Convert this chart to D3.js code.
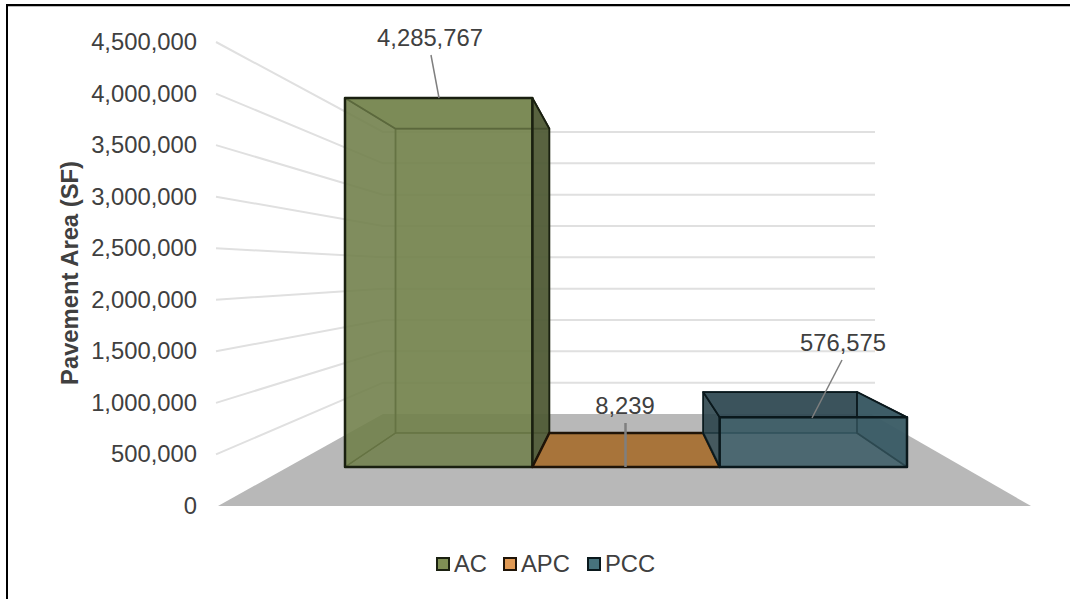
<!DOCTYPE html>
<html><head><meta charset="utf-8">
<script src="https://cdn.jsdelivr.net/npm/d3@7"></script>
<style>html,body{margin:0;padding:0;background:#fff}svg{display:block}text{font-family:"Liberation Sans",Arial,sans-serif}</style>
</head><body><svg id="c" width="1070" height="599"></svg>
<script>
const categories=["AC","APC","PCC"];
const values=[4285767,8239,576575];
const valueLabels=["4,285,767","8,239","576,575"];
const ticks=[0,500000,1000000,1500000,2000000,2500000,3000000,3500000,4000000,4500000];
const fills=["#75844e","#c98a45","#3a5b65"];
const strokes=["#1a2010","#1f1408","#0a181c"];
const svg=d3.select("#c");
const W=1070,H=599,maxV=4500000;

// perspective planes: outer axis, bar front, bar back, rear wall
const yAxis=d3.scaleLinear().domain([0,maxV]).range([506,42]);
const yWall=d3.scaleLinear().domain([0,maxV]).range([414,132]);
const yFront=d3.scaleLinear().domain([0,maxV]).range([467,79.5]);
const yBack=d3.scaleLinear().domain([0,maxV]).range([433,113.5]);
const xFront=d3.scaleBand().domain(categories).range([345,907]);
const xBack=d3.scaleBand().domain(categories).range([395.5,857]);
const wallX=[383,875], axisX=216;
const line=d3.line();

// frame: top and left edges only
svg.append("path").attr("d",line([[7,H],[7,5],[W,5]])).attr("fill","none").attr("stroke","#000").attr("stroke-width",2);
svg.append("path").attr("d",line([[8,6.5],[W,6.5]])).attr("stroke","#bbb").attr("stroke-width",1);

// floor
svg.append("path").attr("d",line([[218,yAxis(0)],[wallX[0],yWall(0)],[wallX[1]-4,yWall(0)],[1031,yAxis(0)]])+"Z").attr("fill","#b8b8b8");
// walls
const grid=svg.append("g").attr("fill","none").attr("stroke","#e0e0e0").attr("stroke-width",2);
ticks.forEach(t=>{
  if(t>0){
    grid.append("path").attr("d",line([[axisX,yAxis(t)],[wallX[0],yWall(t)],[wallX[1],yWall(t)]]));
  }
});
// axis labels
svg.append("g").selectAll("text").data(ticks).join("text")
  .attr("x",197).attr("y",d=>yAxis(d)+8).attr("text-anchor","end")
  .attr("font-size",23.8).attr("fill","#404040").text(d3.format(","));
svg.append("text").attr("transform","translate(78,273) rotate(-90)").attr("text-anchor","middle")
  .attr("font-size",23.8).attr("font-weight","bold").attr("fill","#404040").text("Pavement Area (SF)");

// boxes
categories.forEach((c,i)=>{
  const v=values[i],f=fills[i],s=strokes[i];
  const x0=xFront(c),x1=x0+xFront.bandwidth(),b0=xBack(c),b1=b0+xBack.bandwidth();
  const ft=yFront(v),fb=yFront(0),bt=yBack(v),bb=yBack(0);
  const g=svg.append("g");
  const face=(pts,op,fill,w,col)=>g.append("path").attr("d",line(pts)+"Z").attr("fill",fill||f).attr("fill-opacity",op).attr("stroke",col||s).attr("stroke-width",w).attr("stroke-linejoin","round");
  if(c==="APC"){
    face([[x0,fb],[b0,bb],[b1,bb],[x1,fb]],1,"#a8743a",2.5);
    return;
  }
  const ac=c==="AC";
  face([[b0,bt],[b1,bt],[b1,bb],[b0,bb]],.72,ac?"#6f7e4a":"#385660",1.5,ac?"#4a5530":"#1f3a42");       // back
  face([[x0,fb],[b0,bb],[b1,bb],[x1,fb]],.5,ac?"#5c6a3a":"#3a5b65",1.2,ac?"#3e4828":"#1f3a42");         // bottom
  face([[x0,ft],[b0,bt],[b0,bb],[x0,fb]],.6,ac?"#5f6d3a":"#233940",1.5,ac?"#3e4828":"#0a181c");         // left
  face([[x0,ft],[b0,bt],[b1,bt],[x1,ft]],.8,ac?"#75844e":"#2e4650",1.8);                                // top
  face([[x1,ft],[b1,bt],[b1,bb],[x1,fb]],.85,ac?"#4d5836":"#3a5b65",1.8);                               // right
  face([[x0,ft],[x1,ft],[x1,fb],[x0,fb]],.72,f,2.5);                                                    // front
});

// data labels and leaders
const labelPos=[[430,46],[625,414],[843,351]];
svg.append("g").selectAll("text").data(valueLabels).join("text")
  .attr("x",(d,i)=>labelPos[i][0]).attr("y",(d,i)=>labelPos[i][1])
  .attr("text-anchor","middle").attr("font-size",23.8).attr("fill","#404040").text(d=>d);
const leaders=[[[431,55],[439,98]],[[625.5,423],[625.5,467]],[[842,360],[812,418]]];
svg.append("g").selectAll("path").data(leaders).join("path").attr("d",d=>line(d)).attr("fill","none")
  .attr("stroke","#7f7f7f").attr("stroke-width",(d,i)=>i===1?2.5:1.5);

// legend
const legendX=[437,504,588], legendFill=["#7f8f55","#e09a55","#47727c"];
const lg=svg.append("g").selectAll("g").data(categories).join("g").attr("transform",(d,i)=>`translate(${legendX[i]},558)`);
lg.append("rect").attr("width",12).attr("height",12).attr("fill",(d,i)=>legendFill[i]).attr("stroke",(d,i)=>strokes[i]).attr("stroke-width",2);
lg.append("text").attr("x",17).attr("y",14).attr("font-size",23.8).attr("fill","#404040").text(d=>d);
</script></body></html>
